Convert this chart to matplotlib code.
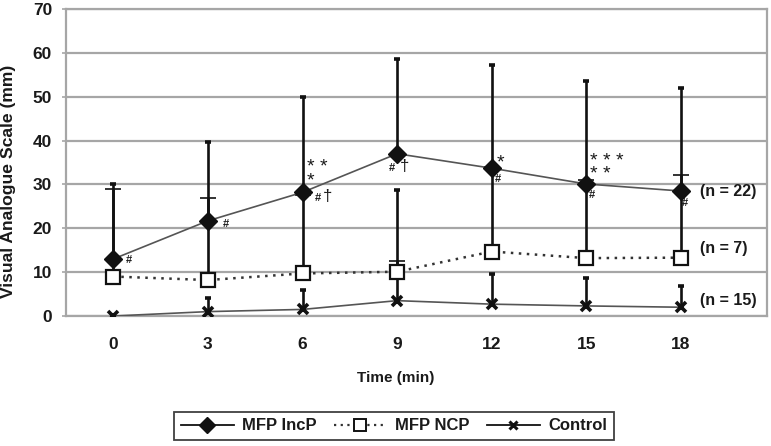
import numpy as np
import matplotlib
matplotlib.use("Agg")
import matplotlib.pyplot as plt
from matplotlib.lines import Line2D

# ---------------- data ----------------
time_labels = ["0", "3", "6", "9", "12", "15", "18"]
incp_mean = [13.0, 21.7, 28.2, 37.0, 33.7, 30.1, 28.5]
incp_upper = [30.0, 39.7, 50.0, 58.5, 57.3, 53.5, 52.1]
ncp_mean = [9.0, 8.2, 9.7, 10.1, 14.7, 13.2, 13.3]
ncp_upper = [29.0, 26.8, 27.5, 12.6, 34.0, 31.0, 32.1]
ctrl_mean = [0.0, 1.0, 1.5, 3.5, 2.7, 2.3, 2.0]
ctrl_upper = [0.0, 4.2, 5.9, 28.7, 9.5, 8.6, 6.8]
series_names = ["MFP IncP", "MFP NCP", "Control"]
n_labels = ["(n = 22)", "(n = 7)", "(n = 15)"]

# annotations
hash_marks = [0, 1, 2, 3, 4, 5, 6]
dagger_marks = [2, 3]
star_marks = [(2, "* *\n*"), (4, "*"), (5, "* * *\n* *")]

# ---------------- figure ----------------
plt.rcParams["font.family"] = ["Liberation Sans", "DejaVu Sans"]
fig = plt.figure(figsize=(7.71, 4.46), dpi=100)
ax = fig.add_axes([66 / 771, 1 - 316 / 446, (767 - 66) / 771, (316 - 9) / 446])

x = np.arange(len(time_labels))
grid_c = "#a6a6a6"
txt_c = "#1a1a1a"

ax.set_ylim(0, 70)
ax.set_xlim(-0.5, 6.91)
ax.set_yticks(np.arange(0, 71, 10))
ax.yaxis.grid(True, color=grid_c, lw=1.6, zorder=0)
ax.set_axisbelow(True)
for s in ax.spines.values():
    s.set_color(grid_c)
    s.set_linewidth(1.6)
ax.tick_params(axis="x", length=0, pad=15, labelsize=12.5)
ax.tick_params(axis="y", length=3, width=1.2, color=grid_c, pad=7, labelsize=12.5)
ax.set_xticks(x)
ax.set_xticklabels(time_labels)
for lab in ax.get_xticklabels() + ax.get_yticklabels():
    lab.set_fontweight("bold")
    lab.set_color(txt_c)

ax.set_xlabel("Time (min)", fontsize=11, fontweight="bold", color=txt_c)
ax.xaxis.set_label_coords((396 - 66) / 701, (316 - 371) / 307)
ax.set_ylabel("Visual Analogue Scale (mm)", fontsize=12.6, fontweight="bold", color=txt_c)
ax.yaxis.set_label_coords((16 - 66) / 701, (316 - 181) / 307)

# error bars (upper only)
def upbars(mean, upper, cap_ms, cap_mew):
    ax.vlines(x, mean, upper, color="#111111", lw=1.9, zorder=3)
    ax.plot(x, upper, ls="none", marker="_", ms=cap_ms, mew=cap_mew, color="#111111", zorder=3)

upbars(ncp_mean, ncp_upper, 12, 1.2)
upbars(ctrl_mean, ctrl_upper, 5, 2.6)
upbars(incp_mean, incp_upper, 5, 2.6)

# lines
ax.plot(x, incp_mean, color="#555555", lw=1.2, zorder=4)
ax.plot(x, ncp_mean, color="#333333", lw=1.8, ls=(0, (1, 2.2)), zorder=4)
ax.plot(x, ctrl_mean, color="#555555", lw=1.2, zorder=4)

# markers
ax.plot(x, incp_mean, ls="none", marker="D", ms=9, color="#111111", zorder=6)
ax.plot(x, ncp_mean, ls="none", marker="s", ms=10, mfc="white", mec="#111111", mew=1.6, zorder=6)
ax.plot(x, ctrl_mean, ls="none", marker="x", ms=7, mec="#111111", mew=2.6, zorder=6)

# annotations
px = 72 / 100  # pixel -> points
hash_off = {0: (16, -1), 1: (18, -3), 2: (15, -6), 3: (-5, -14), 4: (6, -11), 5: (6, -11), 6: (4, -12)}
for i in hash_marks:
    dx, dy = hash_off[i]
    ax.annotate("#", (x[i], incp_mean[i]), xytext=(dx * px, dy * px), textcoords="offset points",
                ha="center", va="center", fontsize=8, fontweight="bold", color=txt_c, zorder=7)
dag_off = {2: (25, -4), 3: (7, -13)}
for i in dagger_marks:
    dx, dy = dag_off[i]
    ax.annotate("†", (x[i], incp_mean[i]), xytext=(dx * px, dy * px), textcoords="offset points",
                ha="center", va="center", fontsize=12, color=txt_c, zorder=7)
star_off = {2: (4, 18), 4: (5, 5), 5: (4, 16)}
for i, txt in star_marks:
    dx, dy = star_off[i]
    ax.annotate(txt, (x[i], incp_mean[i]), xytext=(dx * px, dy * px), textcoords="offset points",
                ha="left", va="center", multialignment="left", linespacing=0.72,
                fontsize=14, color=txt_c, zorder=7)

# n labels
n_y = [incp_mean[-1], ncp_mean[-1] + 2.2, ctrl_mean[-1] + 1.6]
for lab, yv in zip(n_labels, n_y):
    ax.annotate(lab, (x[-1], yv), xytext=(19 * px, 0), textcoords="offset points",
                ha="left", va="center", fontsize=11.5, fontweight="bold", color=txt_c)

# legend
handles = [
    Line2D([], [], color="#111111", lw=1.3, marker="D", ms=8),
    Line2D([], [], color="#333333", lw=1.6, ls=(0, (1, 2)), marker="s", ms=8, mfc="white", mec="#111111", mew=1.4),
    Line2D([], [], color="#111111", lw=1.3, marker="x", ms=6, mew=2.2),
]
leg = fig.legend(handles, series_names, loc="center", bbox_to_anchor=(394 / 771, 1 - 426 / 446),
                 ncol=3, frameon=True, fancybox=False, handlelength=3.2, handletextpad=0.5,
                 columnspacing=1.0, borderpad=0.4, prop={"weight": "bold", "size": 12})
leg.get_frame().set_edgecolor("#111111")
leg.get_frame().set_linewidth(1.3)
for t in leg.get_texts():
    t.set_color(txt_c)

fig.savefig("out.png", dpi=100)
